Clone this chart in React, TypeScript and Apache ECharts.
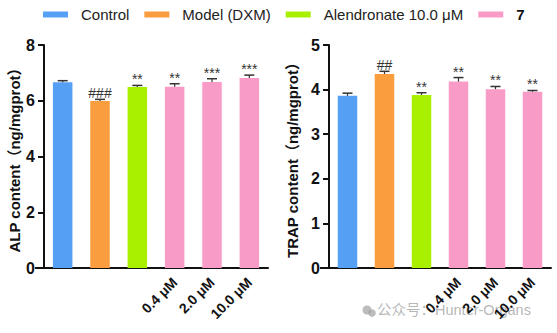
import React, { useEffect, useRef } from 'react';
import * as echarts from 'echarts';

const groups = ['Control', 'Model (DXM)', 'Alendronate 10.0 μM', '7'];
const groupColors = ['#559ff5', '#f99d3e', '#a8f000', '#f89bc6'];
const categories = ['Control', 'Model', 'Alendronate', '7-0.4', '7-2.0', '7-10.0'];
const xTickLabels = ['', '', '', '0.4 μM', '2.0 μM', '10.0 μM'];
const groupOfCategory = [0, 1, 2, 3, 3, 3];

const alpValues = [6.66, 5.99, 6.49, 6.5, 6.67, 6.82];
const alpErrors = [0.06, 0.06, 0.06, 0.11, 0.12, 0.1];
const alpMarks = ['', '###', '**', '**', '***', '***'];

const trapValues = [3.86, 4.35, 3.88, 4.18, 4.01, 3.95];
const trapErrors = [0.06, 0.06, 0.05, 0.09, 0.06, 0.03];
const trapMarks = ['', '##', '**', '**', '**', '**'];

const FONT = '"Liberation Sans", Arial, "Noto Sans CJK SC", sans-serif';

function barSeries(gridIdx: number, values: number[]) {
  return groups.map((g, gi) => ({
    type: 'bar',
    name: g,
    xAxisIndex: gridIdx,
    yAxisIndex: gridIdx,
    barWidth: 19.5,
    barGap: '-100%',
    itemStyle: { color: groupColors[gi] },
    data: values.map((v, i) => (groupOfCategory[i] === gi ? v : '-')),
  }));
}

function errorSeries(gridIdx: number, values: number[], errors: number[], marks: string[]) {
  return {
    type: 'custom',
    xAxisIndex: gridIdx,
    yAxisIndex: gridIdx,
    z: 10,
    data: values.map((v, i) => [i, v, errors[i]]),
    renderItem: (params: any, api: any) => {
      const i = api.value(0);
      const v = api.value(1);
      const e = api.value(2);
      const base = api.coord([i, v]);
      const top = api.coord([i, v + e]);
      const half = 5;
      const color = '#333';
      const children: any[] = [
        { type: 'line', shape: { x1: base[0], y1: base[1], x2: top[0], y2: top[1] }, style: { stroke: color, lineWidth: 1.2 } },
        { type: 'line', shape: { x1: top[0] - half, y1: top[1], x2: top[0] + half, y2: top[1] }, style: { stroke: color, lineWidth: 1.5 } },
      ];
      const m = marks[params.dataIndex];
      if (m) {
        children.push({
          type: 'text',
          style: {
            x: top[0],
            y: top[1] + 1,
            text: m,
            align: 'center',
            verticalAlign: 'bottom',
            fontSize: 14,
            fontFamily: FONT,
            fill: '#333',
          },
        });
      }
      return { type: 'group', children };
    },
  };
}

function xAxis(gridIdx: number) {
  return {
    type: 'category',
    gridIndex: gridIdx,
    data: categories,
    axisLine: { lineStyle: { color: '#111', width: 2 } },
    axisTick: { alignWithLabel: true, length: 9, lineStyle: { color: '#111', width: 2 } },
    axisLabel: {
      interval: 0,
      rotate: 45,
      margin: 12,
      fontSize: 14,
      fontWeight: 'bold',
      fontFamily: FONT,
      color: '#111',
      formatter: (_v: string, idx: number) => xTickLabels[idx],
    },
  };
}

function yAxis(gridIdx: number, name: string, max: number, interval: number, gap: number) {
  return {
    type: 'value',
    gridIndex: gridIdx,
    min: 0,
    max,
    interval,
    name,
    nameLocation: 'middle',
    nameGap: gap,
    nameTextStyle: { fontSize: 15, fontWeight: 'bold', fontFamily: FONT, color: '#111' },
    splitLine: { show: false },
    axisLine: { show: true, lineStyle: { color: '#111', width: 2 } },
    axisTick: { show: true, length: 6, lineStyle: { color: '#111', width: 2 } },
    axisLabel: { fontSize: 16, fontWeight: 'bold', fontFamily: FONT, color: '#111', margin: 9 },
  };
}

export default function App() {
  const ref = useRef<HTMLDivElement>(null);
  useEffect(() => {
    if (!ref.current) return;
    const chart = echarts.init(ref.current, undefined, { renderer: 'svg' });
    chart.setOption({
      animation: false,
      backgroundColor: '#ffffff',
      legend: {
        data: groups,
        left: 38,
        top: 2,
        itemWidth: 25,
        itemHeight: 6,
        itemGap: 15,
        icon: 'rect',
        textStyle: {
          fontSize: 15,
          fontFamily: FONT,
          color: '#222',
          padding: [0, 0, 0, 8],
          rich: { b: { fontSize: 15, fontWeight: 'bold', fontFamily: FONT, color: '#111' } },
        },
        formatter: (n: string) => (n === '7' ? '{b|7}' : n),
      },
      grid: [
        { left: 44, top: 45, width: 224, height: 223 },
        { left: 329, top: 45, width: 222, height: 223 },
      ],
      xAxis: [xAxis(0), xAxis(1)],
      yAxis: [
        yAxis(0, 'ALP content（ng/mgprot）', 8, 2, 22),
        yAxis(1, 'TRAP content（ng/mgprot）', 5, 1, 29),
      ],
      graphic: [
        { type: 'line', shape: { x1: 35, y1: 268, x2: 45, y2: 268 }, style: { stroke: '#111', lineWidth: 2 } },
        { type: 'line', shape: { x1: 320, y1: 268, x2: 330, y2: 268 }, style: { stroke: '#111', lineWidth: 2 } },
        { type: 'circle', shape: { cx: 367, cy: 310, r: 4.5 }, style: { fill: 'rgba(160,160,160,0.7)' } },
        { type: 'circle', shape: { cx: 372, cy: 313, r: 3.8 }, style: { fill: 'rgba(160,160,160,0.7)' } },
        {
          type: 'text',
          left: 377,
          top: 303,
          style: {
            text: '公众号：Hunter-Organs',
            fontSize: 14.5,
            fontFamily: FONT,
            fill: 'rgba(150,150,150,0.7)',
          },
        },
      ],
      series: [
        ...barSeries(0, alpValues),
        errorSeries(0, alpValues, alpErrors, alpMarks),
        ...barSeries(1, trapValues),
        errorSeries(1, trapValues, trapErrors, trapMarks),
      ],
    });
    return () => chart.dispose();
  }, []);
  return <div ref={ref} style={{ position: 'fixed', left: 0, top: 0, width: 557, height: 333 }} />;
}
